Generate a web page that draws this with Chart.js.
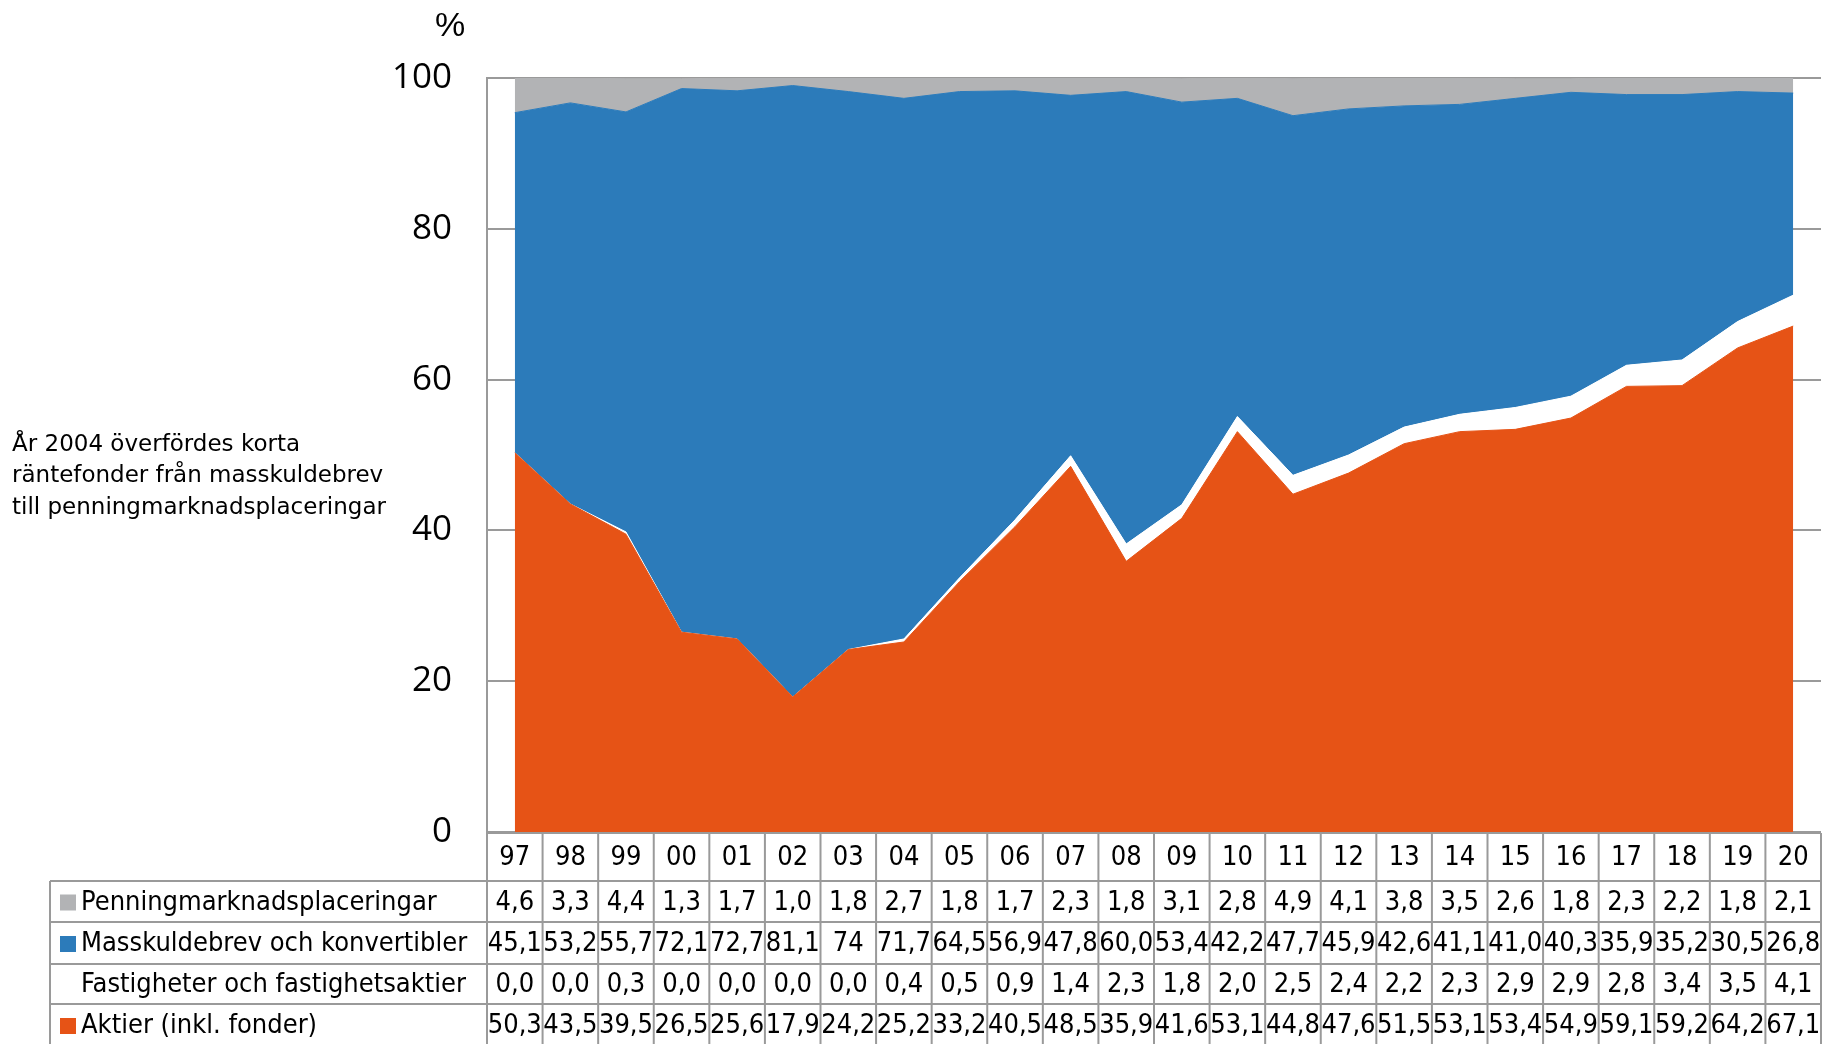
<!DOCTYPE html>
<html lang="sv">
<head>
<meta charset="utf-8">
<title>Fondförmögenhetens fördelning</title>
<script src="https://cdn.jsdelivr.net/npm/chart.js@4.4.1/dist/chart.umd.min.js"></script>
<style>
  html, body { margin: 0; padding: 0; background: #fff; }
  #wrap { width: 1826px; height: 1044px; }
</style>
</head>
<body>
<div id="wrap"><canvas id="chart" width="1826" height="1044"></canvas></div>
<script>
// values as printed in the table below the chart (Swedish decimal comma)
const years = ['97', '98', '99', '00', '01', '02', '03', '04', '05', '06', '07', '08',
               '09', '10', '11', '12', '13', '14', '15', '16', '17', '18', '19', '20'];
const penning = ['4,6', '3,3', '4,4', '1,3', '1,7', '1,0', '1,8', '2,7', '1,8', '1,7', '2,3', '1,8',
                 '3,1', '2,8', '4,9', '4,1', '3,8', '3,5', '2,6', '1,8', '2,3', '2,2', '1,8', '2,1'];
const masskuld = ['45,1', '53,2', '55,7', '72,1', '72,7', '81,1', '74', '71,7', '64,5', '56,9', '47,8', '60,0',
                  '53,4', '42,2', '47,7', '45,9', '42,6', '41,1', '41,0', '40,3', '35,9', '35,2', '30,5', '26,8'];
const fastigheter = ['0,0', '0,0', '0,3', '0,0', '0,0', '0,0', '0,0', '0,4', '0,5', '0,9', '1,4', '2,3',
                     '1,8', '2,0', '2,5', '2,4', '2,2', '2,3', '2,9', '2,9', '2,8', '3,4', '3,5', '4,1'];
const aktier = ['50,3', '43,5', '39,5', '26,5', '25,6', '17,9', '24,2', '25,2', '33,2', '40,5', '48,5', '35,9',
                '41,6', '53,1', '44,8', '47,6', '51,5', '53,1', '53,4', '54,9', '59,1', '59,2', '64,2', '67,1'];
const yTicks = [0, 20, 40, 60, 80, 100];

const num = s => parseFloat(s.replace(',', '.'));

const GRAY = '#b2b3b5';
const BLUE = '#2c7bba';
const ORANGE = '#e65316';
const LINE = '#9a9a9a';

// table rows, top to bottom (reverse of the stacking order)
const tableRows = [
    { label: 'Penningmarknadsplaceringar', color: GRAY, values: penning },
    { label: 'Masskuldebrev och konvertibler', color: BLUE, values: masskuld },
    { label: 'Fastigheter och fastighetsaktier', color: null, values: fastigheter },
    { label: 'Aktier (inkl. fonder)', color: ORANGE, values: aktier },
];

const tablePlugin = {
    id: 'dataTable',
    afterDraw(chart) {
        const ctx = chart.ctx;
        const x = chart.scales.x;
        const area = chart.chartArea;
        const half = (x.getPixelForValue(1) - x.getPixelForValue(0)) / 2;
        const tableLeft = 50;
        const rowEdges = [area.bottom + 1, 881, 922, 964, 1004, 1046];

        ctx.save();
        ctx.strokeStyle = LINE;
        ctx.lineWidth = 2;

        // horizontal lines
        ctx.beginPath();
        ctx.moveTo(area.left, rowEdges[0]);
        ctx.lineTo(area.right, rowEdges[0]);
        for (let r = 1; r < rowEdges.length; r++) {
            ctx.moveTo(tableLeft, rowEdges[r]);
            ctx.lineTo(area.right, rowEdges[r]);
        }
        // vertical lines
        for (let i = 0; i <= years.length; i++) {
            const px = x.getPixelForValue(0) - half + i * 2 * half;
            ctx.moveTo(px, rowEdges[0]);
            ctx.lineTo(px, 1044);
        }
        ctx.moveTo(tableLeft, rowEdges[1]);
        ctx.lineTo(tableLeft, 1044);
        ctx.stroke();

        // header: years
        ctx.fillStyle = '#000';
        ctx.font = '27px "DejaVu Sans Condensed"';
        ctx.textAlign = 'center';
        ctx.textBaseline = 'middle';
        years.forEach((y, i) => {
            ctx.fillText(y, x.getPixelForValue(i), (rowEdges[0] + rowEdges[1]) / 2 + 1);
        });

        // data rows
        tableRows.forEach((row, r) => {
            const cy = (rowEdges[r + 1] + rowEdges[r + 2]) / 2 + 1;
            if (row.color) {
                ctx.fillStyle = row.color;
                ctx.fillRect(60, cy - 8, 16, 16);
            }
            ctx.fillStyle = '#000';
            ctx.textAlign = 'left';
            ctx.fillText(row.label, 81, cy);
            ctx.textAlign = 'center';
            row.values.forEach((v, i) => {
                ctx.fillText(v, x.getPixelForValue(i), cy);
            });
        });
        ctx.restore();
    }
};

const notesPlugin = {
    id: 'notes',
    afterDraw(chart) {
        const ctx = chart.ctx;
        ctx.save();
        ctx.fillStyle = '#000';
        ctx.textBaseline = 'middle';
        ctx.textAlign = 'center';
        ctx.font = '34px "Liberation Sans"';
        ctx.fillText('%', 450, 27);
        ctx.textAlign = 'left';
        ctx.font = '23px "DejaVu Sans"';
        ['År 2004 överfördes korta',
         'räntefonder från masskuldebrev',
         'till penningmarknadsplaceringar'].forEach((t, i) => {
            ctx.fillText(t, 12, 445 + i * 31.5);
        });
        ctx.restore();
    }
};

new Chart(document.getElementById('chart'), {
    type: 'line',
    data: {
        labels: years,
        datasets: [
            { label: 'Aktier (inkl. fonder)', data: aktier.map(num), backgroundColor: ORANGE, borderColor: ORANGE, fill: 'origin' },
            { label: 'Fastigheter och fastighetsaktier', data: fastigheter.map(num), backgroundColor: '#ffffff', borderColor: '#ffffff', fill: '-1' },
            { label: 'Masskuldebrev och konvertibler', data: masskuld.map(num), backgroundColor: BLUE, borderColor: BLUE, fill: '-1' },
            { label: 'Penningmarknadsplaceringar', data: penning.map(num), backgroundColor: GRAY, borderColor: GRAY, fill: '-1' },
        ]
    },
    options: {
        responsive: false,
        animation: false,
        layout: { padding: { top: 78, bottom: 212, left: 0, right: 5 } },
        elements: {
            line: { borderWidth: 1, tension: 0 },
            point: { radius: 0, hoverRadius: 0 }
        },
        plugins: {
            legend: { display: false },
            tooltip: { enabled: false },
            filler: { propagate: false }
        },
        scales: {
            x: { type: 'category', offset: true, display: false },
            y: {
                stacked: true,
                min: 0,
                max: 100,
                afterFit(scale) { scale.width = 487; },
                afterBuildTicks(scale) { scale.ticks = yTicks.map(v => ({ value: v })); },
                border: { display: true, color: LINE, width: 2 },
                grid: { color: LINE, lineWidth: 2, drawTicks: false },
                ticks: {
                    padding: 35,
                    color: '#000',
                    font: { family: '"Open Sans", "Liberation Sans", sans-serif', size: 35 }
                }
            }
        }
    },
    plugins: [tablePlugin, notesPlugin]
});
</script>
</body>
</html>
